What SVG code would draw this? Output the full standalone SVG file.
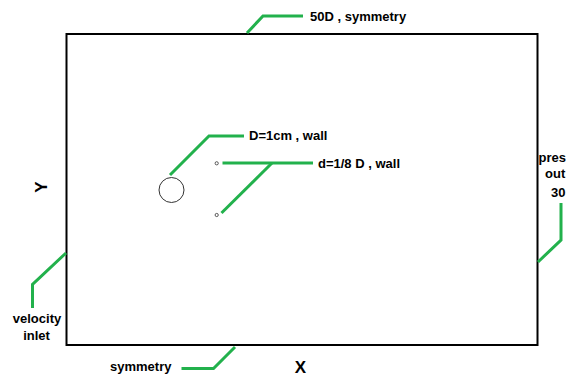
<svg xmlns="http://www.w3.org/2000/svg" width="566" height="378" viewBox="0 0 566 378">
<style>
.lbl{font-family:"Liberation Sans",Arial,sans-serif;font-weight:bold;font-size:13px;fill:#000}
.axis{font-family:"Liberation Sans",Arial,sans-serif;font-weight:bold;font-size:17px;fill:#000}
.lead{fill:none;stroke:#22b14c;stroke-width:3;stroke-linejoin:miter}
</style>
<rect width="566" height="378" fill="#fff"/>
<g id="domain">
<rect x="66.5" y="34" width="471" height="311" fill="none" stroke="#000" stroke-width="2"/>
</g>
<g id="cylinder">
<circle cx="171.5" cy="190" r="12.5" fill="none" stroke="#333" stroke-width="1"/>
</g>
<g id="small-cyl-1">
<circle cx="216.7" cy="163.3" r="1.6" fill="none" stroke="#333" stroke-width="0.8"/>
</g>
<g id="small-cyl-2">
<circle cx="216.7" cy="215" r="1.6" fill="none" stroke="#333" stroke-width="0.8"/>
</g>
<g id="connectors">
<polyline class="lead" points="247,33 263,16 303,16"/>
<polyline class="lead" points="170,175 209,136 244,136"/>
<polyline class="lead" points="222.5,163 313,163"/>
<polyline class="lead" points="221.5,213 272,163"/>
<polyline class="lead" points="538,262 561,240 561,203"/>
<polyline class="lead" points="66,253 32.5,284.5 32.5,308"/>
<polyline class="lead" points="235,347 213.5,368.5 181.5,368.5"/>
</g>
<g id="labels">
<text class="lbl" x="310" y="21">50D , symmetry</text>
<text class="lbl" x="249" y="140">D=1cm , wall</text>
<text class="lbl" x="318" y="168">d=1/8 D , wall</text>
<text class="lbl" x="538.5" y="162">pres</text>
<text class="lbl" x="545" y="178">out</text>
<text class="lbl" x="551" y="197">30</text>
<text class="lbl" x="37" y="323" text-anchor="middle">velocity</text>
<text class="lbl" x="36.5" y="340" text-anchor="middle">inlet</text>
<text class="lbl" x="110" y="371">symmetry</text>
<text class="axis" x="300.5" y="373" text-anchor="middle">X</text>
<text class="axis" transform="translate(46.5,187) rotate(-90)" text-anchor="middle">Y</text>
</g>
</svg>
